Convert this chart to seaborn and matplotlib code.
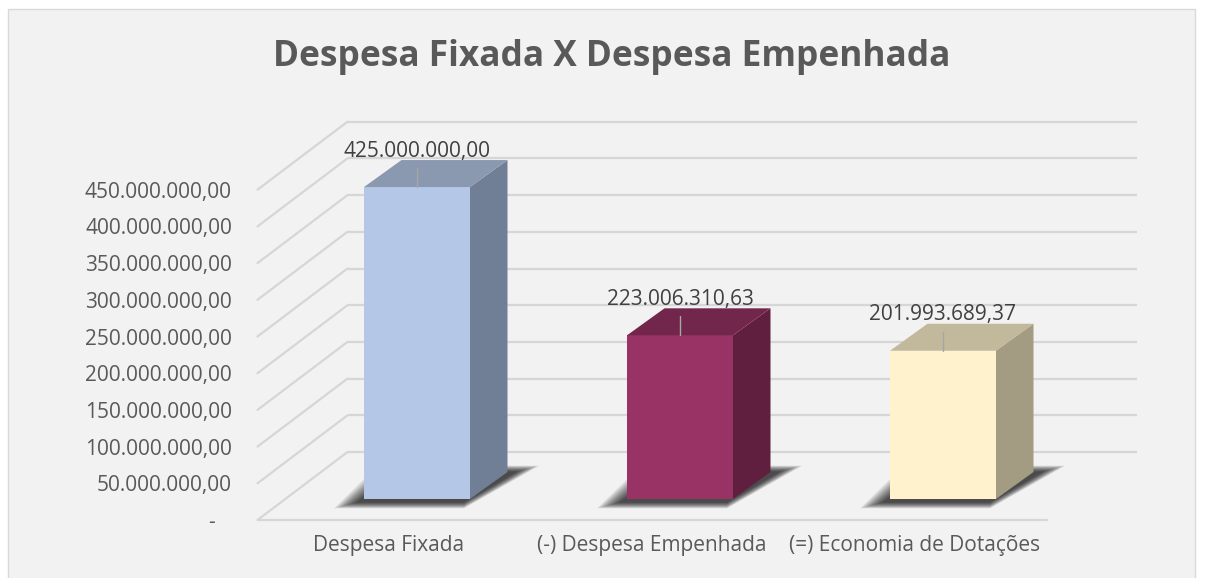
"""Despesa Fixada X Despesa Empenhada - Excel style pseudo 3D columns."""

import matplotlib
matplotlib.use("Agg")
import matplotlib.pyplot as plt
from matplotlib.patches import Polygon, Rectangle
import seaborn as sns

categories = ["Despesa Fixada", "(-) Despesa Empenhada", "(=) Economia de Dotações"]
values = [425000000.00, 223006310.63, 201993689.37]
tick_values = [0, 50e6, 100e6, 150e6, 200e6, 250e6, 300e6, 350e6, 400e6, 450e6]

front_colors = ["#B4C7E7", "#993366", "#FFF2CC"]
side_colors = ["#717F96", "#611F40", "#A39B82"]
top_colors = ["#8A98B0", "#73264B", "#C2B99C"]

W, H = 1205, 578
GRID = "#D6D6D6"
TEXT = "#595959"


def br(v):
    """Brazilian number format, '-' for zero like Excel accounting."""
    if v == 0:
        return "-   "
    return f"{v:,.2f}".replace(",", "X").replace(".", ",").replace("X", ".")


sns.set_theme(style="white")
plt.rcParams["font.family"] = ["Open Sans", "DejaVu Sans"]

fig = plt.figure(figsize=(W / 100, H / 100), dpi=100)
fig.patch.set_facecolor("white")
fig.add_artist(Rectangle((8 / W, -0.01), 1187 / W, 1.01 - 9 / H, transform=fig.transFigure,
                         facecolor="#F2F2F2", edgecolor="#D9D9D9", linewidth=1, zorder=0))

# axes of the bars' front plane, and a shifted one for the front (tick) plane
ax_w, ax_h = 789, 367
fax = fig.add_axes([257.5 / W, 58 / H, ax_w / W, ax_h / H], zorder=1)
ax = fig.add_axes([285.5 / W, 79 / H, ax_w / W, ax_h / H], zorder=2)

PX_X = 3 / ax_w
PX_Y = 500e6 / ax_h


def off(dx, dy):
    return dx * PX_X, dy * PX_Y


fpx, fpy = off(-28, -21)   # front floor edge
bwx, bwy = off(62, 47)     # back wall
ddx, ddy = off(37.5, 27)   # bar depth

sns.barplot(x=categories, y=values, hue=categories, palette=front_colors, width=0.403,
            saturation=1, legend=False, linewidth=0, ax=ax, zorder=4)

ax.set_xlim(-0.5, 2.5)
ax.set_ylim(0, 500e6)
ax.axis("off")

# back wall gridlines and the diagonals of the left wall
for v in tick_values:
    ax.plot([-0.5 + bwx, 2.5 + bwx], [v + bwy, v + bwy], color=GRID, lw=1.6,
            clip_on=False, zorder=1, solid_capstyle="butt")
    ax.plot([-0.5 + fpx, -0.5 + bwx], [v + fpy, v + bwy], color=GRID, lw=1.6,
            clip_on=False, zorder=1)
ax.plot([-0.5 + fpx, 2.5 + fpx], [fpy, fpy], color=GRID, lw=1.6, clip_on=False, zorder=1)

for p, side, top in zip(ax.patches, side_colors, top_colors):
    x0, w, h = p.get_x(), p.get_width(), p.get_height()
    # soft shadow on the floor
    sx, sy = off(-6, -3)
    rx, _ = off(8, 0)
    for k in range(16, 0, -1):
        ex, ey = off(k * 1.5, k * 0.4)
        ax.add_patch(Polygon([(x0 + sx - ex, sy - ey), (x0 + w + sx, sy - ey),
                              (x0 + w + ddx + rx + ex, ddy + ey),
                              (x0 + ddx - ex, ddy + ey)],
                             closed=True, facecolor="black", edgecolor="none",
                             alpha=0.065, zorder=2, clip_on=False))
    ax.add_patch(Polygon([(x0 + w, 0), (x0 + w + ddx, ddy), (x0 + w + ddx, h + ddy), (x0 + w, h)],
                         closed=True, facecolor=side, edgecolor="none", zorder=4, clip_on=False))
    ax.add_patch(Polygon([(x0, h), (x0 + w, h), (x0 + w + ddx, h + ddy), (x0 + ddx, h + ddy)],
                         closed=True, facecolor=top, edgecolor="none", zorder=4, clip_on=False))
    cx = x0 + w / 2
    ax.plot([cx, cx], [h, h + 19 * PX_Y], color="#A6A6A6", lw=1, zorder=5, clip_on=False)
    ax.annotate(br(h), (cx, h), xytext=(0, 36 * 0.72), textcoords="offset points",
                ha="center", va="center", fontsize=15, color="#404040", zorder=6,
                annotation_clip=False)

# front plane: tick labels
fax.set_xlim(-0.5, 2.5)
fax.set_ylim(0, 500e6)
fax.patch.set_visible(False)
for s in fax.spines.values():
    s.set_visible(False)
fax.set_yticks(tick_values)
fax.set_yticklabels([br(v) for v in tick_values])
fax.set_xticks(range(len(categories)))
fax.set_xticklabels(categories)
fax.tick_params(axis="y", length=0, pad=18.4, labelsize=15, labelcolor=TEXT)
fax.tick_params(axis="x", length=0, pad=11, labelsize=15, labelcolor=TEXT)

fig.text(612 / W, 1 - 57 / H, "Despesa Fixada X Despesa Empenhada", ha="center", va="center",
         fontsize=25.4, fontweight="bold", color=TEXT)

fig.savefig("out.png", dpi=100)
